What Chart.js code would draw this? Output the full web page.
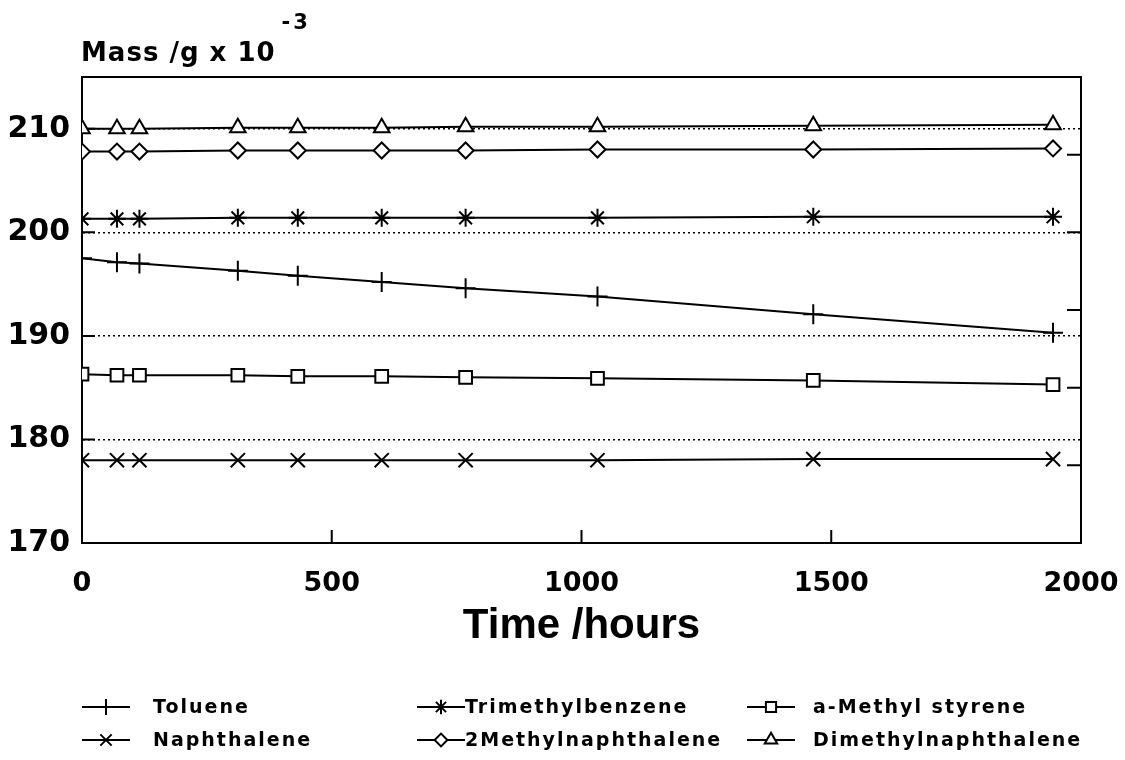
<!DOCTYPE html>
<html>
<head>
<meta charset="utf-8">
<script src="https://cdn.jsdelivr.net/npm/chart.js@4.4.0/dist/chart.umd.min.js"></script>
<style>
  html, body { margin: 0; padding: 0; background: #fff; }
</style>
</head>
<body>
<canvas id="massChart" width="1125" height="760"></canvas>
<script>
// sampling times (hours)
var hours = [0, 70, 115, 312, 432, 600, 768, 1032, 1464, 1944];

// mass of each compound, g x 10^-3
var toluene = [197.5, 197.1, 197.0, 196.3, 195.8, 195.2, 194.6, 193.8, 192.1, 190.3];
var trimethylbenzene = [201.3, 201.3, 201.3, 201.4, 201.4, 201.4, 201.4, 201.4, 201.5, 201.5];
var aMethylStyrene = [186.3, 186.2, 186.2, 186.2, 186.1, 186.1, 186.0, 185.9, 185.7, 185.3];
var naphthalene = [178.0, 178.0, 178.0, 178.0, 178.0, 178.0, 178.0, 178.0, 178.1, 178.1];
var methylnaphthalene = [207.8, 207.8, 207.8, 207.9, 207.9, 207.9, 207.9, 208.0, 208.0, 208.1];
var dimethylnaphthalene = [210.0, 210.0, 210.0, 210.1, 210.1, 210.1, 210.2, 210.2, 210.3, 210.4];

var xTicks = [0, 500, 1000, 1500, 2000];
var yTicks = [170, 180, 190, 200, 210];

function pts(ys) {
    return hours.map(function (h, i) { return {x: h, y: ys[i]}; });
}

function series(label, ys, style, r) {
    return {
        label: label,
        data: pts(ys),
        borderColor: "#000",
        borderWidth: 2,
        pointStyle: style,
        pointRadius: r,
        pointHoverRadius: r,
        pointBorderColor: "#000",
        pointBackgroundColor: "#fff",
        pointBorderWidth: 2,
        tension: 0
    };
}

var boldFont = "'DejaVu Sans', sans-serif";
var helv = "'Liberation Sans', Arial, sans-serif";

// inward tick marks + top edge of the frame
var frameTicks = {
    id: "frameTicks",
    beforeDatasetsDraw: function (chart) {
        var ctx = chart.ctx, a = chart.chartArea;
        var sx = chart.scales.x, sy = chart.scales.y, sr = chart.scales.y2;
        ctx.save();
        ctx.strokeStyle = "#000";
        ctx.lineWidth = 2;
        ctx.beginPath();
        sx.ticks.forEach(function (t) {
            if (t.value <= sx.min || t.value >= sx.max) return;
            var px = sx.getPixelForValue(t.value);
            ctx.moveTo(px, a.bottom);
            ctx.lineTo(px, a.bottom - 13);
        });
        sy.ticks.forEach(function (t) {
            if (t.value <= sy.min || t.value >= sy.max) return;
            var py = sy.getPixelForValue(t.value);
            ctx.moveTo(a.left, py);
            ctx.lineTo(a.left + 13, py);
        });
        sr.ticks.forEach(function (t) {
            if (t.value <= sr.min || t.value >= sr.max) return;
            var py = sr.getPixelForValue(t.value);
            ctx.moveTo(a.right, py);
            ctx.lineTo(a.right - 14, py);
        });
        ctx.moveTo(a.left, a.top);
        ctx.lineTo(a.right, a.top);
        ctx.stroke();
        ctx.restore();
    }
};

// y title with exponent, and the 3 x 2 legend under the axis title
var annotate = {
    id: "annotate",
    afterDraw: function (chart) {
        var ctx = chart.ctx;
        ctx.save();
        ctx.fillStyle = "#000";
        ctx.textBaseline = "alphabetic";
        ctx.textAlign = "left";
        ctx.font = "bold 26px " + boldFont;
        ctx.letterSpacing = "1px";
        var title = "Mass /g x 10";
        ctx.fillText(title, 81, 61);
        var w = ctx.measureText(title).width;
        ctx.font = "bold 21px " + boldFont;
        ctx.letterSpacing = "3px";
        ctx.fillText("-3", 81 + w + 6, 29);

        var cols = [{line: 82, text: 153}, {line: 417, text: 465}, {line: 747, text: 813}];
        var rows = [707, 740];
        ctx.font = "bold 19px " + boldFont;
        ctx.letterSpacing = "2px";
        ctx.textBaseline = "middle";
        chart.data.datasets.forEach(function (ds, i) {
            var c = cols[i % 3], y = rows[Math.floor(i / 3)];
            ctx.strokeStyle = "#000";
            ctx.lineWidth = 2;
            ctx.beginPath();
            ctx.moveTo(c.line, y);
            ctx.lineTo(c.line + 48, y);
            ctx.stroke();
            ctx.fillStyle = "#fff";
            Chart.helpers.drawPoint(ctx, {
                pointStyle: ds.pointStyle,
                radius: ds.pointRadius * 0.8,
                rotation: 0,
                borderWidth: 2
            }, c.line + 24, y);
            ctx.fillStyle = "#000";
            ctx.fillText(ds.label, c.text, y + 1);
        });
        ctx.restore();
    }
};

var chart = new Chart(document.getElementById("massChart"), {
    type: "line",
    data: {
        datasets: [
            series("Toluene", toluene, "cross", 10),
            series("Trimethylbenzene", trimethylbenzene, "star", 9),
            series("a-Methyl styrene", aMethylStyrene, "rect", 9),
            series("Naphthalene", naphthalene, "crossRot", 10),
            series("2Methylnaphthalene", methylnaphthalene, "rectRot", 8),
            series("Dimethylnaphthalene", dimethylnaphthalene, "triangle", 9)
        ]
    },
    options: {
        responsive: false,
        animation: false,
        layout: {padding: {top: 77, left: 0, right: 0, bottom: 0}},
        plugins: {legend: {display: false}, tooltip: {enabled: false}},
        scales: {
            x: {
                type: "linear",
                position: "bottom",
                min: 0,
                max: 2000,
                afterBuildTicks: function (s) { s.ticks = xTicks.map(function (v) { return {value: v}; }); },
                afterFit: function (s) { s.height = 217; s.paddingLeft = 0; s.paddingRight = 0; },
                ticks: {
                    color: "#000", padding: 25, maxRotation: 0,
                    format: {useGrouping: false},
                    font: {family: boldFont, size: 27, weight: "bold"}
                },
                grid: {drawOnChartArea: false, drawTicks: false},
                border: {color: "#000", width: 2},
                title: {
                    display: true,
                    text: "Time /hours",
                    color: "#000",
                    font: {family: helv, size: 42, weight: "bold"},
                    padding: {top: 0, bottom: 108}
                }
            },
            y: {
                position: "left",
                min: 170,
                max: 215,
                afterBuildTicks: function (s) { s.ticks = yTicks.map(function (v) { return {value: v}; }); },
                afterFit: function (s) { s.width = 82; },
                ticks: {color: "#000", padding: 12, font: {family: boldFont, size: 30, weight: "bold"}},
                grid: {
                    drawTicks: false,
                    lineWidth: 1.5,
                    color: function (c) { return c.tick && c.tick.value === 170 ? "rgba(0,0,0,0)" : "#000"; }
                },
                border: {color: "#000", width: 2, dash: [2, 3]}
            },
            y2: {
                position: "right",
                min: 0,
                max: 6,
                ticks: {display: false, stepSize: 1},
                afterFit: function (s) { s.width = 44; },
                grid: {drawOnChartArea: false, drawTicks: false},
                border: {color: "#000", width: 2}
            }
        }
    },
    plugins: [frameTicks, annotate]
});
</script>
</body>
</html>
